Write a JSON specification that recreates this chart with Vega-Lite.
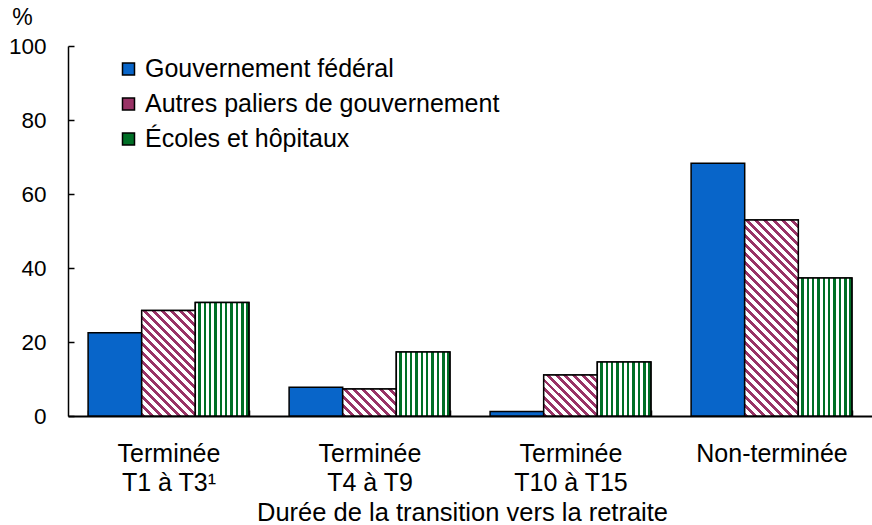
{
  "$schema": "https://vega.github.io/schema/vega-lite/v6.json",
  "width": 804,
  "height": 370,
  "autosize": {"type": "none"},
  "padding": {"left": 68, "top": 46, "right": 0, "bottom": 109},
  "background": "white",
  "config": {
    "view": {"stroke": null},
    "font": "Liberation Sans",
    "axis": {"labelColor": "black", "titleColor": "black", "domainColor": "black", "tickColor": "black", "grid": false}
  },
  "data": {
    "values": [
      {"groupe": "Terminée|T1 à T3¹", "serie": "Gouvernement fédéral", "valeur": 22.5},
      {"groupe": "Terminée|T1 à T3¹", "serie": "Autres paliers de gouvernement", "valeur": 28.5},
      {"groupe": "Terminée|T1 à T3¹", "serie": "Écoles et hôpitaux", "valeur": 30.7},
      {"groupe": "Terminée|T4 à T9", "serie": "Gouvernement fédéral", "valeur": 7.8},
      {"groupe": "Terminée|T4 à T9", "serie": "Autres paliers de gouvernement", "valeur": 7.3},
      {"groupe": "Terminée|T4 à T9", "serie": "Écoles et hôpitaux", "valeur": 17.3},
      {"groupe": "Terminée|T10 à T15", "serie": "Gouvernement fédéral", "valeur": 1.2},
      {"groupe": "Terminée|T10 à T15", "serie": "Autres paliers de gouvernement", "valeur": 11.1},
      {"groupe": "Terminée|T10 à T15", "serie": "Écoles et hôpitaux", "valeur": 14.6},
      {"groupe": "Non-terminée", "serie": "Gouvernement fédéral", "valeur": 68.3},
      {"groupe": "Non-terminée", "serie": "Autres paliers de gouvernement", "valeur": 53.0},
      {"groupe": "Non-terminée", "serie": "Écoles et hôpitaux", "valeur": 37.3}
    ]
  },
  "encoding": {
    "x": {
      "field": "groupe",
      "type": "nominal",
      "scale": {"domain": ["Terminée|T1 à T3¹", "Terminée|T4 à T9", "Terminée|T10 à T15", "Non-terminée"], "paddingInner": 0.2, "paddingOuter": 0.1},
      "axis": {
        "title": "Durée de la transition vers la retraite",
        "labelExpr": "split(datum.label, '|')",
        "labelAngle": 0,
        "labelFontSize": 25,
        "labelLineHeight": 29,
        "labelBaseline": "alphabetic",
        "labelPadding": 51,
        "labelLimit": 300,
        "labelOverlap": false,
        "tickBand": "extent",
        "tickSize": -6,
        "tickWidth": 1.5,
        "domainWidth": 2,
        "titleFontSize": 25.5,
        "titleFontWeight": "normal",
        "titleX": 394,
        "titleY": 104,
        "titleAlign": "center",
        "titleBaseline": "alphabetic"
      }
    },
    "xOffset": {
      "field": "serie",
      "type": "nominal",
      "scale": {"domain": ["Gouvernement fédéral", "Autres paliers de gouvernement", "Écoles et hôpitaux"], "paddingInner": 0, "paddingOuter": 0}
    },
    "y": {
      "field": "valeur",
      "type": "quantitative",
      "scale": {"domain": [0, 100], "nice": false},
      "axis": {
        "title": "%",
        "titleAngle": 0,
        "titleX": -46,
        "titleY": -29,
        "titleAlign": "center",
        "titleBaseline": "middle",
        "titleFontSize": 23,
        "titleFontWeight": "normal",
        "values": [0, 20, 40, 60, 80, 100],
        "labelFontSize": 22.5,
        "labelPadding": 28,
        "tickSize": -6,
        "tickWidth": 1.5,
        "domainWidth": 1.5
      }
    }
  },
  "layer": [
    {
      "mark": {"type": "bar", "stroke": "black", "strokeWidth": 1.5},
      "encoding": {
        "fill": {
          "field": "serie",
          "type": "nominal",
          "scale": {
            "domain": ["Gouvernement fédéral", "Autres paliers de gouvernement", "Écoles et hôpitaux"],
            "range": ["#0865C9", "#993366", "#006F26"]
          },
          "legend": {
            "title": null,
            "orient": "none",
            "legendX": 48,
            "legendY": 10.5,
            "direction": "vertical",
            "padding": 0,
            "labelFontSize": 25,
            "labelColor": "black",
            "labelLimit": 600,
            "labelOffset": 4,
            "rowPadding": 9,
            "symbolType": "square",
            "symbolSize": 144,
            "symbolStrokeColor": "black",
            "symbolStrokeWidth": 1.5,
            "encode": {
              "symbols": {
                "update": {
                  "stroke": {"value": "black"},
                  "strokeWidth": {"value": 1.5},
                  "fill": {"signal": "datum.value === 'Autres paliers de gouvernement' ? {gradient: 'linear', x1: 0, y1: 1, x2: 1, y2: 0, stops: [{offset: 0, color: '#993366'}, {offset: 0.15, color: '#993366'}, {offset: 0.15, color: '#ffffff'}, {offset: 0.3333, color: '#ffffff'}, {offset: 0.3333, color: '#993366'}, {offset: 0.4833, color: '#993366'}, {offset: 0.4833, color: '#ffffff'}, {offset: 0.6667, color: '#ffffff'}, {offset: 0.6667, color: '#993366'}, {offset: 0.8167, color: '#993366'}, {offset: 0.8167, color: '#ffffff'}, {offset: 1, color: '#ffffff'}]} : datum.value === 'Écoles et hôpitaux' ? {gradient: 'linear', x1: 0, y1: 0, x2: 1, y2: 0, stops: [{offset: 0, color: '#006F26'}, {offset: 0.2, color: '#006F26'}, {offset: 0.2, color: '#ffffff'}, {offset: 0.4, color: '#ffffff'}, {offset: 0.4, color: '#006F26'}, {offset: 0.6, color: '#006F26'}, {offset: 0.6, color: '#ffffff'}, {offset: 0.8, color: '#ffffff'}, {offset: 0.8, color: '#006F26'}, {offset: 1, color: '#006F26'}]} : '#0865C9'"}
                }
              }
            }
          }
        }
      }
    },
    {
      "transform": [{"filter": "datum.serie === 'Autres paliers de gouvernement' && datum.groupe === 'Terminée|T1 à T3¹'"}],
      "mark": {"type": "bar", "stroke": "black", "strokeWidth": 1.5,
        "fill": {"gradient": "linear", "x1": 0, "y1": 1, "x2": 0.609, "y2": -0.199, "stops": [
                {"offset": 0, "color": "#993366"}, {"offset": 0.025, "color": "#993366"}, {"offset": 0.025, "color": "#ffffff"}, {"offset": 0.0556, "color": "#ffffff"},
                {"offset": 0.0556, "color": "#993366"}, {"offset": 0.0806, "color": "#993366"}, {"offset": 0.0806, "color": "#ffffff"}, {"offset": 0.1111, "color": "#ffffff"},
                {"offset": 0.1111, "color": "#993366"}, {"offset": 0.1361, "color": "#993366"}, {"offset": 0.1361, "color": "#ffffff"}, {"offset": 0.1667, "color": "#ffffff"},
                {"offset": 0.1667, "color": "#993366"}, {"offset": 0.1917, "color": "#993366"}, {"offset": 0.1917, "color": "#ffffff"}, {"offset": 0.2222, "color": "#ffffff"},
                {"offset": 0.2222, "color": "#993366"}, {"offset": 0.2472, "color": "#993366"}, {"offset": 0.2472, "color": "#ffffff"}, {"offset": 0.2778, "color": "#ffffff"},
                {"offset": 0.2778, "color": "#993366"}, {"offset": 0.3028, "color": "#993366"}, {"offset": 0.3028, "color": "#ffffff"}, {"offset": 0.3333, "color": "#ffffff"},
                {"offset": 0.3333, "color": "#993366"}, {"offset": 0.3583, "color": "#993366"}, {"offset": 0.3583, "color": "#ffffff"}, {"offset": 0.3889, "color": "#ffffff"},
                {"offset": 0.3889, "color": "#993366"}, {"offset": 0.4139, "color": "#993366"}, {"offset": 0.4139, "color": "#ffffff"}, {"offset": 0.4444, "color": "#ffffff"},
                {"offset": 0.4444, "color": "#993366"}, {"offset": 0.4694, "color": "#993366"}, {"offset": 0.4694, "color": "#ffffff"}, {"offset": 0.5, "color": "#ffffff"},
                {"offset": 0.5, "color": "#993366"}, {"offset": 0.525, "color": "#993366"}, {"offset": 0.525, "color": "#ffffff"}, {"offset": 0.5556, "color": "#ffffff"},
                {"offset": 0.5556, "color": "#993366"}, {"offset": 0.5806, "color": "#993366"}, {"offset": 0.5806, "color": "#ffffff"}, {"offset": 0.6111, "color": "#ffffff"},
                {"offset": 0.6111, "color": "#993366"}, {"offset": 0.6361, "color": "#993366"}, {"offset": 0.6361, "color": "#ffffff"}, {"offset": 0.6667, "color": "#ffffff"},
                {"offset": 0.6667, "color": "#993366"}, {"offset": 0.6917, "color": "#993366"}, {"offset": 0.6917, "color": "#ffffff"}, {"offset": 0.7222, "color": "#ffffff"},
                {"offset": 0.7222, "color": "#993366"}, {"offset": 0.7472, "color": "#993366"}, {"offset": 0.7472, "color": "#ffffff"}, {"offset": 0.7778, "color": "#ffffff"},
                {"offset": 0.7778, "color": "#993366"}, {"offset": 0.8028, "color": "#993366"}, {"offset": 0.8028, "color": "#ffffff"}, {"offset": 0.8333, "color": "#ffffff"},
                {"offset": 0.8333, "color": "#993366"}, {"offset": 0.8583, "color": "#993366"}, {"offset": 0.8583, "color": "#ffffff"}, {"offset": 0.8889, "color": "#ffffff"},
                {"offset": 0.8889, "color": "#993366"}, {"offset": 0.9139, "color": "#993366"}, {"offset": 0.9139, "color": "#ffffff"}, {"offset": 0.9444, "color": "#ffffff"},
                {"offset": 0.9444, "color": "#993366"}, {"offset": 0.9694, "color": "#993366"}, {"offset": 0.9694, "color": "#ffffff"}, {"offset": 1, "color": "#ffffff"}
              ]}},
      "encoding": {}
    },
    {
      "transform": [{"filter": "datum.serie === 'Autres paliers de gouvernement' && datum.groupe === 'Terminée|T4 à T9'"}],
      "mark": {"type": "bar", "stroke": "black", "strokeWidth": 1.5,
        "fill": {"gradient": "linear", "x1": 0, "y1": 1, "x2": 1.199, "y2": 0.396, "stops": [
                {"offset": 0, "color": "#993366"}, {"offset": 0.05, "color": "#993366"}, {"offset": 0.05, "color": "#ffffff"}, {"offset": 0.1111, "color": "#ffffff"},
                {"offset": 0.1111, "color": "#993366"}, {"offset": 0.1611, "color": "#993366"}, {"offset": 0.1611, "color": "#ffffff"}, {"offset": 0.2222, "color": "#ffffff"},
                {"offset": 0.2222, "color": "#993366"}, {"offset": 0.2722, "color": "#993366"}, {"offset": 0.2722, "color": "#ffffff"}, {"offset": 0.3333, "color": "#ffffff"},
                {"offset": 0.3333, "color": "#993366"}, {"offset": 0.3833, "color": "#993366"}, {"offset": 0.3833, "color": "#ffffff"}, {"offset": 0.4444, "color": "#ffffff"},
                {"offset": 0.4444, "color": "#993366"}, {"offset": 0.4944, "color": "#993366"}, {"offset": 0.4944, "color": "#ffffff"}, {"offset": 0.5556, "color": "#ffffff"},
                {"offset": 0.5556, "color": "#993366"}, {"offset": 0.6056, "color": "#993366"}, {"offset": 0.6056, "color": "#ffffff"}, {"offset": 0.6667, "color": "#ffffff"},
                {"offset": 0.6667, "color": "#993366"}, {"offset": 0.7167, "color": "#993366"}, {"offset": 0.7167, "color": "#ffffff"}, {"offset": 0.7778, "color": "#ffffff"},
                {"offset": 0.7778, "color": "#993366"}, {"offset": 0.8278, "color": "#993366"}, {"offset": 0.8278, "color": "#ffffff"}, {"offset": 0.8889, "color": "#ffffff"},
                {"offset": 0.8889, "color": "#993366"}, {"offset": 0.9389, "color": "#993366"}, {"offset": 0.9389, "color": "#ffffff"}, {"offset": 1, "color": "#ffffff"}
              ]}},
      "encoding": {}
    },
    {
      "transform": [{"filter": "datum.serie === 'Autres paliers de gouvernement' && datum.groupe === 'Terminée|T10 à T15'"}],
      "mark": {"type": "bar", "stroke": "black", "strokeWidth": 1.5,
        "fill": {"gradient": "linear", "x1": 0, "y1": 1, "x2": 1.113, "y2": 0.147, "stops": [
                {"offset": 0, "color": "#993366"}, {"offset": 0.0409, "color": "#993366"}, {"offset": 0.0409, "color": "#ffffff"}, {"offset": 0.0909, "color": "#ffffff"},
                {"offset": 0.0909, "color": "#993366"}, {"offset": 0.1318, "color": "#993366"}, {"offset": 0.1318, "color": "#ffffff"}, {"offset": 0.1818, "color": "#ffffff"},
                {"offset": 0.1818, "color": "#993366"}, {"offset": 0.2227, "color": "#993366"}, {"offset": 0.2227, "color": "#ffffff"}, {"offset": 0.2727, "color": "#ffffff"},
                {"offset": 0.2727, "color": "#993366"}, {"offset": 0.3136, "color": "#993366"}, {"offset": 0.3136, "color": "#ffffff"}, {"offset": 0.3636, "color": "#ffffff"},
                {"offset": 0.3636, "color": "#993366"}, {"offset": 0.4045, "color": "#993366"}, {"offset": 0.4045, "color": "#ffffff"}, {"offset": 0.4545, "color": "#ffffff"},
                {"offset": 0.4545, "color": "#993366"}, {"offset": 0.4955, "color": "#993366"}, {"offset": 0.4955, "color": "#ffffff"}, {"offset": 0.5455, "color": "#ffffff"},
                {"offset": 0.5455, "color": "#993366"}, {"offset": 0.5864, "color": "#993366"}, {"offset": 0.5864, "color": "#ffffff"}, {"offset": 0.6364, "color": "#ffffff"},
                {"offset": 0.6364, "color": "#993366"}, {"offset": 0.6773, "color": "#993366"}, {"offset": 0.6773, "color": "#ffffff"}, {"offset": 0.7273, "color": "#ffffff"},
                {"offset": 0.7273, "color": "#993366"}, {"offset": 0.7682, "color": "#993366"}, {"offset": 0.7682, "color": "#ffffff"}, {"offset": 0.8182, "color": "#ffffff"},
                {"offset": 0.8182, "color": "#993366"}, {"offset": 0.8591, "color": "#993366"}, {"offset": 0.8591, "color": "#ffffff"}, {"offset": 0.9091, "color": "#ffffff"},
                {"offset": 0.9091, "color": "#993366"}, {"offset": 0.95, "color": "#993366"}, {"offset": 0.95, "color": "#ffffff"}, {"offset": 1, "color": "#ffffff"}
              ]}},
      "encoding": {}
    },
    {
      "transform": [{"filter": "datum.serie === 'Autres paliers de gouvernement' && datum.groupe === 'Non-terminée'"}],
      "mark": {"type": "bar", "stroke": "black", "strokeWidth": 1.5,
        "fill": {"gradient": "linear", "x1": 0, "y1": 1, "x2": 0.3239, "y2": -0.185, "stops": [
                {"offset": 0, "color": "#993366"}, {"offset": 0.0161, "color": "#993366"}, {"offset": 0.0161, "color": "#ffffff"}, {"offset": 0.0357, "color": "#ffffff"},
                {"offset": 0.0357, "color": "#993366"}, {"offset": 0.0518, "color": "#993366"}, {"offset": 0.0518, "color": "#ffffff"}, {"offset": 0.0714, "color": "#ffffff"},
                {"offset": 0.0714, "color": "#993366"}, {"offset": 0.0875, "color": "#993366"}, {"offset": 0.0875, "color": "#ffffff"}, {"offset": 0.1071, "color": "#ffffff"},
                {"offset": 0.1071, "color": "#993366"}, {"offset": 0.1232, "color": "#993366"}, {"offset": 0.1232, "color": "#ffffff"}, {"offset": 0.1429, "color": "#ffffff"},
                {"offset": 0.1429, "color": "#993366"}, {"offset": 0.159, "color": "#993366"}, {"offset": 0.159, "color": "#ffffff"}, {"offset": 0.1786, "color": "#ffffff"},
                {"offset": 0.1786, "color": "#993366"}, {"offset": 0.1947, "color": "#993366"}, {"offset": 0.1947, "color": "#ffffff"}, {"offset": 0.2143, "color": "#ffffff"},
                {"offset": 0.2143, "color": "#993366"}, {"offset": 0.2304, "color": "#993366"}, {"offset": 0.2304, "color": "#ffffff"}, {"offset": 0.25, "color": "#ffffff"},
                {"offset": 0.25, "color": "#993366"}, {"offset": 0.2661, "color": "#993366"}, {"offset": 0.2661, "color": "#ffffff"}, {"offset": 0.2857, "color": "#ffffff"},
                {"offset": 0.2857, "color": "#993366"}, {"offset": 0.3018, "color": "#993366"}, {"offset": 0.3018, "color": "#ffffff"}, {"offset": 0.3214, "color": "#ffffff"},
                {"offset": 0.3214, "color": "#993366"}, {"offset": 0.3375, "color": "#993366"}, {"offset": 0.3375, "color": "#ffffff"}, {"offset": 0.3571, "color": "#ffffff"},
                {"offset": 0.3571, "color": "#993366"}, {"offset": 0.3732, "color": "#993366"}, {"offset": 0.3732, "color": "#ffffff"}, {"offset": 0.3929, "color": "#ffffff"},
                {"offset": 0.3929, "color": "#993366"}, {"offset": 0.409, "color": "#993366"}, {"offset": 0.409, "color": "#ffffff"}, {"offset": 0.4286, "color": "#ffffff"},
                {"offset": 0.4286, "color": "#993366"}, {"offset": 0.4447, "color": "#993366"}, {"offset": 0.4447, "color": "#ffffff"}, {"offset": 0.4643, "color": "#ffffff"},
                {"offset": 0.4643, "color": "#993366"}, {"offset": 0.4804, "color": "#993366"}, {"offset": 0.4804, "color": "#ffffff"}, {"offset": 0.5, "color": "#ffffff"},
                {"offset": 0.5, "color": "#993366"}, {"offset": 0.5161, "color": "#993366"}, {"offset": 0.5161, "color": "#ffffff"}, {"offset": 0.5357, "color": "#ffffff"},
                {"offset": 0.5357, "color": "#993366"}, {"offset": 0.5518, "color": "#993366"}, {"offset": 0.5518, "color": "#ffffff"}, {"offset": 0.5714, "color": "#ffffff"},
                {"offset": 0.5714, "color": "#993366"}, {"offset": 0.5875, "color": "#993366"}, {"offset": 0.5875, "color": "#ffffff"}, {"offset": 0.6071, "color": "#ffffff"},
                {"offset": 0.6071, "color": "#993366"}, {"offset": 0.6232, "color": "#993366"}, {"offset": 0.6232, "color": "#ffffff"}, {"offset": 0.6429, "color": "#ffffff"},
                {"offset": 0.6429, "color": "#993366"}, {"offset": 0.659, "color": "#993366"}, {"offset": 0.659, "color": "#ffffff"}, {"offset": 0.6786, "color": "#ffffff"},
                {"offset": 0.6786, "color": "#993366"}, {"offset": 0.6947, "color": "#993366"}, {"offset": 0.6947, "color": "#ffffff"}, {"offset": 0.7143, "color": "#ffffff"},
                {"offset": 0.7143, "color": "#993366"}, {"offset": 0.7304, "color": "#993366"}, {"offset": 0.7304, "color": "#ffffff"}, {"offset": 0.75, "color": "#ffffff"},
                {"offset": 0.75, "color": "#993366"}, {"offset": 0.7661, "color": "#993366"}, {"offset": 0.7661, "color": "#ffffff"}, {"offset": 0.7857, "color": "#ffffff"},
                {"offset": 0.7857, "color": "#993366"}, {"offset": 0.8018, "color": "#993366"}, {"offset": 0.8018, "color": "#ffffff"}, {"offset": 0.8214, "color": "#ffffff"},
                {"offset": 0.8214, "color": "#993366"}, {"offset": 0.8375, "color": "#993366"}, {"offset": 0.8375, "color": "#ffffff"}, {"offset": 0.8571, "color": "#ffffff"},
                {"offset": 0.8571, "color": "#993366"}, {"offset": 0.8732, "color": "#993366"}, {"offset": 0.8732, "color": "#ffffff"}, {"offset": 0.8929, "color": "#ffffff"},
                {"offset": 0.8929, "color": "#993366"}, {"offset": 0.909, "color": "#993366"}, {"offset": 0.909, "color": "#ffffff"}, {"offset": 0.9286, "color": "#ffffff"},
                {"offset": 0.9286, "color": "#993366"}, {"offset": 0.9447, "color": "#993366"}, {"offset": 0.9447, "color": "#ffffff"}, {"offset": 0.9643, "color": "#ffffff"},
                {"offset": 0.9643, "color": "#993366"}, {"offset": 0.9804, "color": "#993366"}, {"offset": 0.9804, "color": "#ffffff"}, {"offset": 1, "color": "#ffffff"}
              ]}},
      "encoding": {}
    },
    {
      "transform": [{"filter": "datum.serie === 'Écoles et hôpitaux'"}],
      "mark": {
        "type": "bar",
        "stroke": "black",
        "strokeWidth": 1.5,
        "fill": {"gradient": "linear", "x1": 0, "y1": 0, "x2": 1, "y2": 0, "stops": [
          {"offset": 0, "color": "#ffffff"}, {"offset": 0.055, "color": "#ffffff"}, {"offset": 0.055, "color": "#006F26"}, {"offset": 0.1, "color": "#006F26"},
          {"offset": 0.1, "color": "#ffffff"}, {"offset": 0.155, "color": "#ffffff"}, {"offset": 0.155, "color": "#006F26"}, {"offset": 0.2, "color": "#006F26"},
          {"offset": 0.2, "color": "#ffffff"}, {"offset": 0.255, "color": "#ffffff"}, {"offset": 0.255, "color": "#006F26"}, {"offset": 0.3, "color": "#006F26"},
          {"offset": 0.3, "color": "#ffffff"}, {"offset": 0.355, "color": "#ffffff"}, {"offset": 0.355, "color": "#006F26"}, {"offset": 0.4, "color": "#006F26"},
          {"offset": 0.4, "color": "#ffffff"}, {"offset": 0.455, "color": "#ffffff"}, {"offset": 0.455, "color": "#006F26"}, {"offset": 0.5, "color": "#006F26"},
          {"offset": 0.5, "color": "#ffffff"}, {"offset": 0.555, "color": "#ffffff"}, {"offset": 0.555, "color": "#006F26"}, {"offset": 0.6, "color": "#006F26"},
          {"offset": 0.6, "color": "#ffffff"}, {"offset": 0.655, "color": "#ffffff"}, {"offset": 0.655, "color": "#006F26"}, {"offset": 0.7, "color": "#006F26"},
          {"offset": 0.7, "color": "#ffffff"}, {"offset": 0.755, "color": "#ffffff"}, {"offset": 0.755, "color": "#006F26"}, {"offset": 0.8, "color": "#006F26"},
          {"offset": 0.8, "color": "#ffffff"}, {"offset": 0.855, "color": "#ffffff"}, {"offset": 0.855, "color": "#006F26"}, {"offset": 0.9, "color": "#006F26"},
          {"offset": 0.9, "color": "#ffffff"}, {"offset": 0.955, "color": "#ffffff"}, {"offset": 0.955, "color": "#006F26"}, {"offset": 1, "color": "#006F26"}
        ]}
      },
      "encoding": {}
    }
  ]
}
